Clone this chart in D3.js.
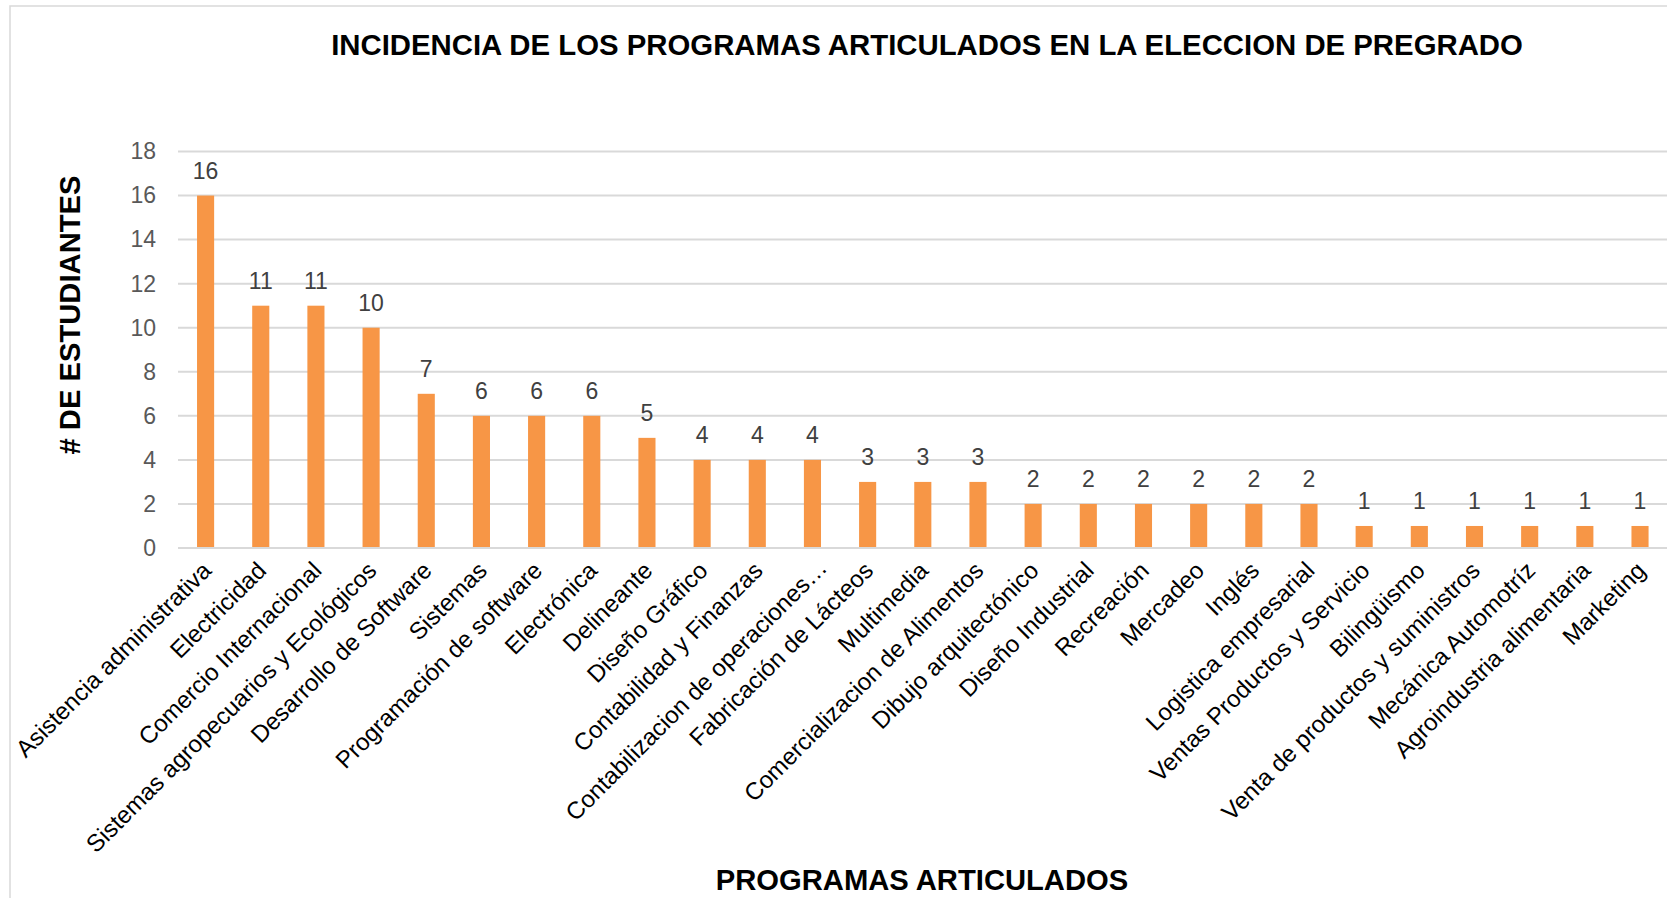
<!DOCTYPE html>
<html>
<head>
<meta charset="utf-8">
<script src="https://cdn.jsdelivr.net/npm/d3@7"></script>
<style>
  html, body { margin: 0; padding: 0; background: #fff; overflow: hidden; }
  svg { display: block; }
  text { font-family: "Liberation Sans", Arial, sans-serif; }
</style>
</head>
<body>
<svg id="chart" width="1667" height="898"></svg>
<script>
const categories = [
  "Asistencia administrativa", "Electricidad", "Comercio Internacional",
  "Sistemas agropecuarios y Ecológicos", "Desarrollo de Software", "Sistemas",
  "Programación de software", "Electrónica", "Delineante", "Diseño Gráfico",
  "Contabilidad y Finanzas", "Contabilizacion de operaciones…", "Fabricación de Lácteos",
  "Multimedia", "Comercializacion de Alimentos", "Dibujo arquitectónico",
  "Diseño Industrial", "Recreación", "Mercadeo", "Inglés", "Logistica empresarial",
  "Ventas Productos y Servicio", "Bilingüismo", "Venta de productos y suministros",
  "Mecánica Automotríz", "Agroindustria alimentaria", "Marketing"
];
const values = [16, 11, 11, 10, 7, 6, 6, 6, 5, 4, 4, 4, 3, 3, 3, 2, 2, 2, 2, 2, 2, 1, 1, 1, 1, 1, 1];
const yTicks = [0, 2, 4, 6, 8, 10, 12, 14, 16, 18];
const chartTitle = "INCIDENCIA DE LOS PROGRAMAS ARTICULADOS EN LA ELECCION DE PREGRADO";
const xTitle = "PROGRAMAS ARTICULADOS";
const yTitle = "# DE ESTUDIANTES";

const svg = d3.select("#chart");
const plot = { left: 178, right: 1667.6, top: 151.5, bottom: 548 };

// outer frame
svg.append("rect")
  .attr("x", 10).attr("y", 6).attr("width", 1700).attr("height", 950)
  .attr("fill", "none").attr("stroke", "#D9D9D9").attr("stroke-width", 1.5);

const x = d3.scaleBand().domain(categories)
  .range([plot.left, plot.right])
  .paddingInner(0.69).paddingOuter(0.345);
const y = d3.scaleLinear().domain([0, 18]).range([plot.bottom, plot.top]);

// gridlines
svg.append("g").selectAll("line").data(yTicks.filter(d => d > 0)).join("line")
  .attr("x1", plot.left).attr("x2", plot.right)
  .attr("y1", d => y(d)).attr("y2", d => y(d))
  .attr("stroke", "#D9D9D9").attr("stroke-width", 2);

// y axis labels
const yAxis = d3.axisLeft(y).tickValues(yTicks).tickSize(0).tickPadding(22);
const gy = svg.append("g").attr("transform", `translate(${plot.left},0)`).call(yAxis);
gy.select(".domain").remove();
gy.selectAll("text")
  .attr("font-size", 23).attr("fill", "#595959")
  .attr("font-family", "'Liberation Sans', Arial, sans-serif");

// bars
svg.append("g").selectAll("rect").data(values).join("rect")
  .attr("x", (d, i) => x(categories[i]))
  .attr("y", d => y(d))
  .attr("width", x.bandwidth())
  .attr("height", d => y(0) - y(d))
  .attr("fill", "#F79646");

// x axis line
svg.append("line")
  .attr("x1", plot.left).attr("x2", plot.right)
  .attr("y1", y(0)).attr("y2", y(0))
  .attr("stroke", "#D9D9D9").attr("stroke-width", 2);

// data labels
svg.append("g").selectAll("text").data(values).join("text")
  .attr("x", (d, i) => x(categories[i]) + x.bandwidth() / 2)
  .attr("y", d => y(d) - 16.5)
  .attr("text-anchor", "middle")
  .attr("font-size", 23).attr("fill", "#404040")
  .text(d => d);

// category labels
svg.append("g").selectAll("text").data(categories).join("text")
  .attr("transform", d => {
    const extra = d.endsWith("…") ? 9 : 0;
    return `translate(${x(d) + x.bandwidth() / 2 + 7 + extra},${y(0) + 24 - extra * 0.3}) rotate(-45)`;
  })
  .attr("text-anchor", "end")
  .attr("font-size", 24).attr("fill", "#000")
  .text(d => d);

// titles
svg.append("text")
  .attr("x", 927).attr("y", 55)
  .attr("text-anchor", "middle")
  .attr("font-size", 29.35).attr("font-weight", "bold").attr("fill", "#000")
  .text(chartTitle);

svg.append("text")
  .attr("x", 922).attr("y", 890)
  .attr("text-anchor", "middle")
  .attr("font-size", 29.2).attr("font-weight", "bold").attr("fill", "#000")
  .text(xTitle);

svg.append("text")
  .attr("transform", "translate(80,315) rotate(-90)")
  .attr("text-anchor", "middle")
  .attr("font-size", 29.2).attr("font-weight", "bold").attr("fill", "#000")
  .text(yTitle);
</script>
</body>
</html>
